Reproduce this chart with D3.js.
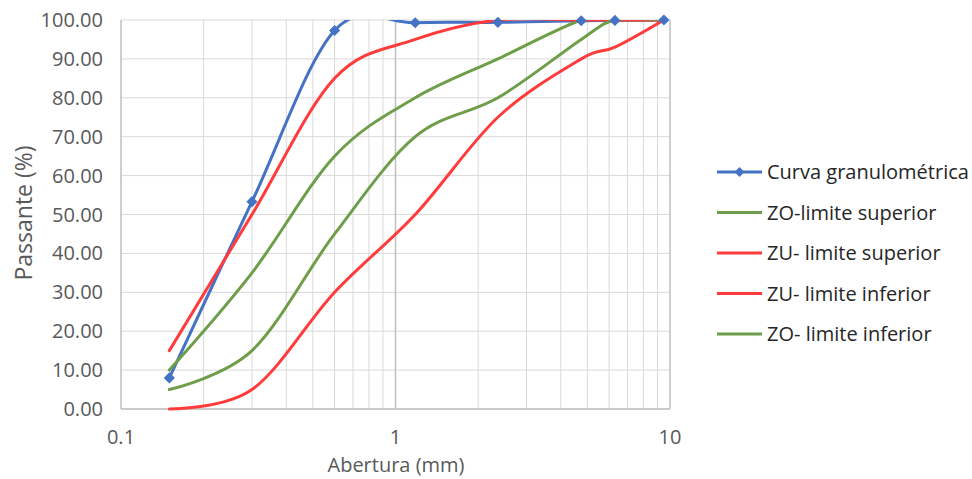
<!DOCTYPE html>
<html>
<head>
<meta charset="utf-8">
<script src="https://cdn.jsdelivr.net/npm/d3@7"></script>
<style>
  body { margin: 0; background: #fff; }
  text { font-family: "Open Sans", "Noto Sans", sans-serif; }
</style>
</head>
<body>
<svg id="drawing_region"></svg>
<script>
// sieve openings (mm)
const aberturas = [0.15, 0.3, 0.6, 1.18, 2.36, 4.75, 6.3, 9.5];

// % passing for each series
const curva = [8.0, 53.3, 97.3, 99.3, 99.4, 99.8, 99.9, 100];
const zoSuperior = [10, 35, 65, 80, 90, 100, 100, 100];
const zuSuperior = [15, 50, 85, 95, 100, 100, 100, 100];
const zuInferior = [0, 5, 30, 50, 75, 90, 93, 100];
const zoInferior = [5, 15, 45, 70, 80, 95, 100, 100];

const seriesNames = ['Curva granulométrica', 'ZO-limite superior', 'ZU- limite superior', 'ZU- limite inferior', 'ZO- limite inferior'];
const seriesColors = ['#4472C4', '#6E9E4A', '#FF3B3B', '#FF3B3B', '#6E9E4A'];
const yTicks = [0, 10, 20, 30, 40, 50, 60, 70, 80, 90, 100];
const xTicks = [0.1, 1, 10];

const width = 972, height = 479;
const margin = {top: 20, right: 302, bottom: 70, left: 121};
const innerW = width - margin.left - margin.right;
const innerH = height - margin.top - margin.bottom;

const svg = d3.select('#drawing_region')
    .attr('width', width)
    .attr('height', height);

const chart = svg.append('g')
    .attr('transform', `translate(${margin.left}, ${margin.top})`);

const xscale = d3.scaleLog().domain([0.1, 10]).range([0, innerW]);
const yscale = d3.scaleLinear().domain([0, 100]).range([innerH, 0]);

// minor vertical grid
const minor = [];
[0.1, 1].forEach(dec => { for (let i = 2; i <= 9; i++) minor.push(dec * i); });
chart.append('g').selectAll('line')
    .data(minor)
    .join('line')
    .attr('x1', d => xscale(d)).attr('x2', d => xscale(d))
    .attr('y1', 0).attr('y2', innerH)
    .attr('stroke', '#d9d9d9').attr('stroke-width', 1);

// horizontal grid
chart.append('g').selectAll('line')
    .data(yTicks)
    .join('line')
    .attr('x1', 0).attr('x2', innerW)
    .attr('y1', d => yscale(d)).attr('y2', d => yscale(d))
    .attr('stroke', '#d9d9d9').attr('stroke-width', 1);

// major vertical grid
chart.append('g').selectAll('line')
    .data(xTicks)
    .join('line')
    .attr('x1', d => xscale(d)).attr('x2', d => xscale(d))
    .attr('y1', 0).attr('y2', innerH)
    .attr('stroke', '#bfbfbf').attr('stroke-width', 1.5);

// bottom axis line
chart.append('line')
    .attr('x1', 0).attr('x2', innerW)
    .attr('y1', innerH).attr('y2', innerH)
    .attr('stroke', '#bfbfbf').attr('stroke-width', 1.5);

// y tick labels
chart.append('g').selectAll('text')
    .data(yTicks)
    .join('text')
    .attr('x', -18)
    .attr('y', d => yscale(d))
    .attr('dy', '0.35em')
    .attr('text-anchor', 'end')
    .attr('font-size', 20)
    .attr('fill', '#595959')
    .text(d => d.toFixed(2));

// x tick labels
chart.append('g').selectAll('text')
    .data(xTicks)
    .join('text')
    .attr('x', d => xscale(d))
    .attr('y', innerH + 35)
    .attr('text-anchor', 'middle')
    .attr('font-size', 20)
    .attr('fill', '#595959')
    .text(d => String(d));

// axis titles
svg.append('text')
    .attr('x', 396)
    .attr('y', 472)
    .attr('text-anchor', 'middle')
    .attr('font-size', 20)
    .attr('fill', '#595959')
    .text('Abertura (mm)');

svg.append('text')
    .attr('transform', `translate(32, 213) rotate(-90)`)
    .attr('text-anchor', 'middle')
    .attr('font-size', 23)
    .attr('fill', '#595959')
    .text('Passante (%)');

// clip
svg.append('defs').append('clipPath').attr('id', 'plotclip')
    .append('rect')
    .attr('x', -2).attr('y', 0)
    .attr('width', innerW + 4).attr('height', innerH + 3);

const line = d3.line()
    .x(d => xscale(d[0]))
    .y(d => yscale(d[1]))
    .curve(d3.curveCatmullRom.alpha(0));

const seriesValues = [curva, zoSuperior, zuSuperior, zuInferior, zoInferior];
const plot = chart.append('g').attr('clip-path', 'url(#plotclip)');

// draw order: measured curve first, limits over it
[0, 1, 2, 3, 4].forEach(i => {
    plot.append('path')
        .datum(aberturas.map((a, j) => [a, seriesValues[i][j]]))
        .attr('d', line)
        .attr('fill', 'none')
        .attr('stroke', seriesColors[i])
        .attr('stroke-width', 3)
        .attr('stroke-linejoin', 'round')
        .attr('stroke-linecap', 'round');
});

// markers (square turned 45 degrees)
chart.append('g').selectAll('path')
    .data(aberturas.map((a, j) => [a, curva[j]]))
    .join('path')
    .attr('transform', d => `translate(${xscale(d[0])}, ${yscale(d[1])}) rotate(45)`)
    .attr('d', d3.symbol(d3.symbolSquare, 62))
    .attr('fill', seriesColors[0]);

// legend
const legend = svg.append('g').attr('transform', 'translate(717, 172)');
const rows = legend.selectAll('g')
    .data(seriesNames)
    .join('g')
    .attr('transform', (d, i) => `translate(0, ${i * 40.5})`);

rows.append('line')
    .attr('x1', 0).attr('x2', 45)
    .attr('y1', 0).attr('y2', 0)
    .attr('stroke', (d, i) => seriesColors[i])
    .attr('stroke-width', 3);

rows.filter((d, i) => i === 0)
    .append('path')
    .attr('transform', 'translate(22.5, 0) rotate(45)')
    .attr('d', d3.symbol(d3.symbolSquare, 50))
    .attr('fill', seriesColors[0]);

rows.append('text')
    .attr('x', 50)
    .attr('dy', '0.35em')
    .attr('font-size', 20)
    .attr('fill', '#262626')
    .text(d => d);
</script>
</body>
</html>
